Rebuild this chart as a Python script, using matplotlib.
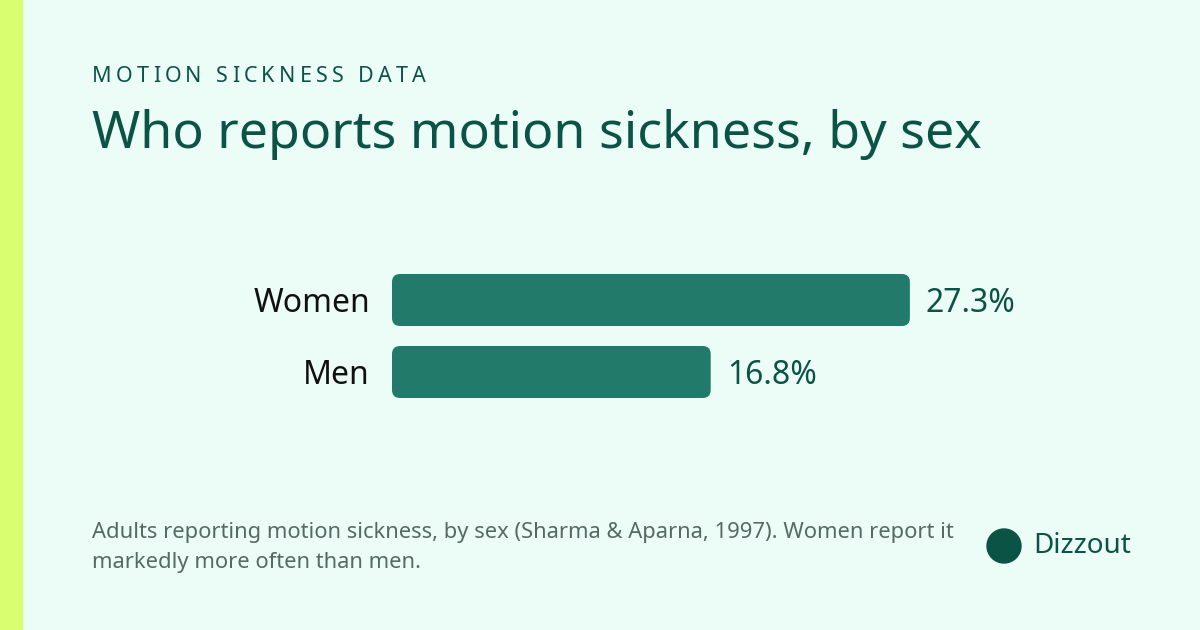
import matplotlib
matplotlib.use("Agg")
import matplotlib.pyplot as plt
from matplotlib.patches import FancyBboxPatch, Rectangle, Ellipse

categories = ["Women", "Men"]
values = [27.3, 16.8]
value_labels = ["27.3%", "16.8%"]

BG = "#ECFDF7"; DARK = "#0B5345"; BAR = "#217A6A"; GRAY = "#566963"; LIME = "#D9FF70"
plt.rcParams['font.family'] = ['Noto Sans', 'DejaVu Sans']

fig = plt.figure(figsize=(12, 6.3), dpi=100, facecolor=BG)
ax = fig.add_axes([0, 0, 1, 1])
ax.set_facecolor(BG)
ppu = 18.97  # pixels per percentage point
ax.set_xlim(-392/ppu, 808/ppu)
ax.set_ylim(630, 0)
ax.axis("off")

fig.patches.append(Rectangle((0, 0), 22/1200, 1, transform=fig.transFigure, color=LIME))

centers = [300, 372]
h = 52
r = 8/ppu
for c, v, lab, vl in zip(centers, values, value_labels, categories):
    ax.add_patch(FancyBboxPatch((0, c - h/2), v, h,
                 boxstyle=f"round,pad=0,rounding_size={r}",
                 mutation_aspect=ppu, color=BAR, lw=0))
    ax.text(v + 16/ppu, c + 3, lab, va="center", ha="left", fontsize=23, color=DARK)
    ax.text(-22/ppu, c + 3, vl, va="center", ha="right", fontsize=23, color="#111")

# letter-spaced kicker
fig.canvas.draw()
rend = fig.canvas.get_renderer()
x = 92
for ch in "MOTION SICKNESS DATA":
    t = fig.text(x/1200, 1 - 82/630, ch, fontsize=15.5, color=DARK, va="baseline")
    w = t.get_window_extent(rend).width if ch != " " else 6
    x += w + 4.2

fig.text(92/1200, 1 - 148/630, "Who reports motion sickness, by sex", fontsize=37.4,
         color=DARK, va="baseline")
fig.text(92/1200, 1 - 538/630, "Adults reporting motion sickness, by sex (Sharma & Aparna, 1997). Women report it",
         fontsize=15.8, color=GRAY, va="baseline")
fig.text(92/1200, 1 - 568/630, "markedly more often than men.", fontsize=15.8, color=GRAY, va="baseline")
fig.patches.append(Ellipse((1004/1200, 1 - 546/630), 34/1200, 34/630, transform=fig.transFigure, color=DARK))
fig.text(1033/1200, 1 - 546/630, "Dizzout", fontsize=20, color=DARK, va="center")

fig.savefig("out.png", dpi=100, facecolor=BG)
